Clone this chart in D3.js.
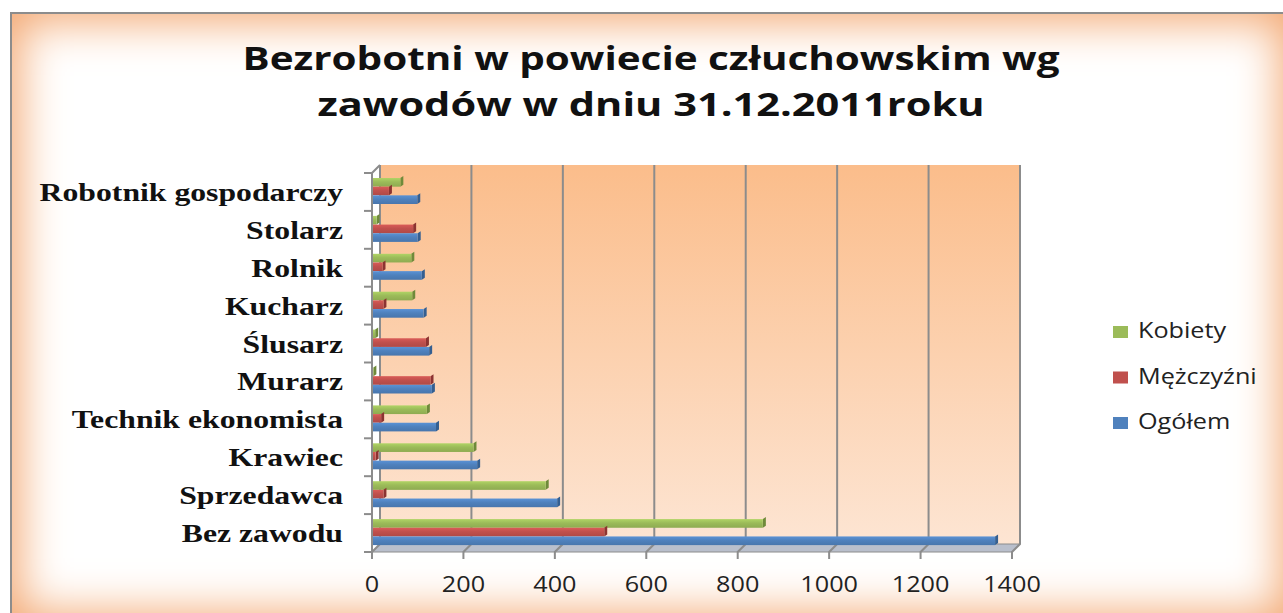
<!DOCTYPE html>
<html>
<head>
<meta charset="utf-8">
<script src="https://cdnjs.cloudflare.com/ajax/libs/d3/7.8.5/d3.min.js"></script>
<style>
  body { margin: 0; background: #fff; }
  #frame {
    position: absolute; left: 10px; top: 12px; width: 1280px; height: 610px;
    border: 2px solid #8c8c8c; box-sizing: border-box; background: #fff;
    box-shadow: inset 0 0 45px 8px #f3a872;
  }
  svg { position: absolute; left: 0; top: 0; }
</style>
</head>
<body>
<div id="frame"></div>
<svg id="chart" width="1283" height="613"></svg>
<script>
// categories listed top to bottom as they appear
const categories = ['Robotnik gospodarczy', 'Stolarz', 'Rolnik', 'Kucharz', 'Ślusarz',
    'Murarz', 'Technik ekonomista', 'Krawiec', 'Sprzedawca', 'Bez zawodu'];
const series = ['Kobiety', 'Mężczyźni', 'Ogółem'];
const kobiety = [62, 10, 86, 88, 7, 3, 120, 222, 380, 855];
const mezczyzni = [37, 90, 23, 25, 118, 128, 20, 8, 25, 508];
const ogolem = [99, 100, 109, 113, 125, 131, 140, 230, 405, 1363];
const xTicks = [0, 200, 400, 600, 800, 1000, 1200, 1400];
const colors = { 'Kobiety': '#9bbb59', 'Mężczyźni': '#c0504d', 'Ogółem': '#4f81bd' };
const sides = { 'Kobiety': '#6f8a3a', 'Mężczyźni': '#8c3331', 'Ogółem': '#345f91' };
const values = { 'Kobiety': kobiety, 'Mężczyźni': mezczyzni, 'Ogółem': ogolem };

const svg = d3.select('#chart');
const defs = svg.append('defs');

const wallGrad = defs.append('linearGradient').attr('id', 'wall')
    .attr('x1', 0).attr('y1', 0).attr('x2', 0).attr('y2', 1);
wallGrad.append('stop').attr('offset', '0%').attr('stop-color', '#fbbd8b');
wallGrad.append('stop').attr('offset', '100%').attr('stop-color', '#fde5d3');

series.forEach(s => {
    const g = defs.append('linearGradient').attr('id', 'g' + series.indexOf(s))
        .attr('x1', 0).attr('y1', 0).attr('x2', 0).attr('y2', 1);
    g.append('stop').attr('offset', '0%').attr('stop-color', d3.color(colors[s]).brighter(0.35));
    g.append('stop').attr('offset', '45%').attr('stop-color', colors[s]);
    g.append('stop').attr('offset', '100%').attr('stop-color', d3.color(colors[s]).darker(0.25));
});

const x = d3.scaleLinear().domain([0, 1400]).range([372, 1012]);
const y = d3.scaleBand().domain(categories).range([173, 552]);
const ySub = d3.scaleBand().domain(series).range([5, 31]);
const dep = 8;
const sx = 1.22; // horizontal stretch of the picture

// back wall
svg.append('rect')
    .attr('x', x(0) + dep).attr('y', y.range()[0] - dep)
    .attr('width', x(1400) - x(0)).attr('height', y.range()[1] - y.range()[0])
    .attr('fill', 'url(#wall)');

// floor
svg.append('polygon')
    .attr('points', [[x(0), 552], [x(0) + dep, 552 - dep], [x(1400) + dep, 552 - dep], [x(1400), 552]].join(' '))
    .attr('fill', '#b9bfcc').attr('stroke', '#8c8c8c').attr('stroke-width', 1);

// gridlines on wall and floor
svg.append('g').selectAll('path')
    .data(xTicks)
    .enter()
    .append('path')
    .attr('d', d => `M${x(d)},559 L${x(d)},552 L${x(d) + dep},${552 - dep} L${x(d) + dep},${173 - dep}`)
    .attr('fill', 'none')
    .attr('stroke', '#8c8c8c')
    .attr('stroke-width', 2);

// left axis
const bounds = categories.map(c => y(c)).concat([552]);
svg.append('path')
    .attr('d', `M${x(0)},552 L${x(0)},173 L${x(0) + dep},${173 - dep}`)
    .attr('fill', 'none').attr('stroke', '#8c8c8c').attr('stroke-width', 2);
svg.append('g').selectAll('line')
    .data(bounds)
    .enter()
    .append('line')
    .attr('x1', x(0) - 8).attr('x2', x(0))
    .attr('y1', d => d).attr('y2', d => d)
    .attr('stroke', '#8c8c8c').attr('stroke-width', 2);

// bars
const groups = svg.append('g').selectAll('g')
    .data(categories)
    .enter()
    .append('g')
    .attr('transform', d => `translate(0,${y(d)})`);

series.forEach((s, si) => {
    groups.append('polygon')
        .attr('points', (c, i) => {
            const xe = x(values[s][i]), yt = ySub(s), h = ySub.bandwidth();
            return [[xe, yt], [xe + 3, yt - 2], [xe + 3, yt + h - 2], [xe, yt + h]].join(' ');
        })
        .attr('fill', sides[s]);
    groups.append('rect')
        .attr('x', x(0) + 1)
        .attr('y', ySub(s))
        .attr('width', (c, i) => Math.max(0, x(values[s][i]) - x(0) - 1))
        .attr('height', ySub.bandwidth())
        .attr('fill', 'url(#g' + si + ')');
});

// category labels
svg.append('g').selectAll('text')
    .data(categories)
    .enter()
    .append('text')
    .attr('transform', d => `translate(343,${y(d) + y.bandwidth() / 2 + 9}) scale(${sx},1)`)
    .attr('text-anchor', 'end')
    .style('font-family', '"Liberation Serif", serif')
    .style('font-weight', 'bold')
    .style('font-size', '26px')
    .style('fill', '#111')
    .text(d => d);

// x tick labels
svg.append('g').selectAll('text')
    .data(xTicks)
    .enter()
    .append('text')
    .attr('transform', d => `translate(${x(d)},592) scale(1.2,1)`)
    .attr('text-anchor', 'middle')
    .style('font-family', '"Open Sans", sans-serif')
    .style('font-size', '21px')
    .style('fill', '#222')
    .text(d => d);

// title
const titleLines = ['Bezrobotni w powiecie człuchowskim wg', 'zawodów w dniu 31.12.2011roku'];
const titleWidths = [817, 667];
svg.append('g').selectAll('text')
    .data(titleLines)
    .enter()
    .append('text')
    .attr('x', 651)
    .attr('y', (d, i) => 70 + i * 46)
    .attr('text-anchor', 'middle')
    .attr('textLength', (d, i) => titleWidths[i])
    .attr('lengthAdjust', 'spacingAndGlyphs')
    .style('font-family', '"Open Sans", sans-serif')
    .style('font-weight', 'bold')
    .style('font-size', '33px')
    .style('fill', '#111')
    .text(d => d);

// legend
const legend = svg.append('g').selectAll('g')
    .data(series)
    .enter()
    .append('g')
    .attr('transform', (d, i) => `translate(1113,${326 + i * 45.5})`);
legend.append('rect')
    .attr('width', 15).attr('height', 12)
    .attr('fill', d => colors[d]);
legend.append('text')
    .attr('transform', `translate(25,12) scale(1.2,1)`)
    .style('font-family', '"Open Sans", sans-serif')
    .style('font-size', '21px')
    .style('fill', '#222')
    .text(d => d);
</script>
</body>
</html>
